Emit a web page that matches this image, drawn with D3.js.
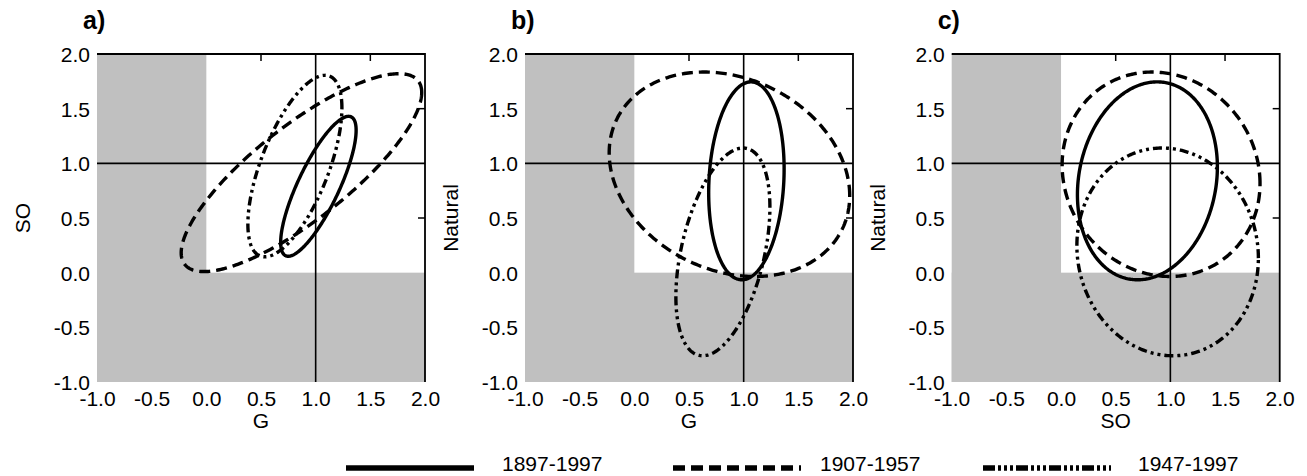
<!DOCTYPE html>
<html><head><meta charset="utf-8">
<script src="https://cdn.jsdelivr.net/npm/d3@7"></script>
<style>
body{margin:0;background:#fff;}
svg text{font-family:"Liberation Sans",Arial,sans-serif;fill:#000;}
</style>
</head><body>
<svg id="chart" width="1307" height="476"></svg>
<script>
// ---- data ----
const periods = ["1897-1997", "1907-1957", "1947-1997"];
// per-period means of each quantity
const meanG   = [1.025, 0.87, 0.81];
const meanSO  = [0.79, 0.915, 0.975];
const meanNat = [0.84, 0.90, 0.19];
// per-period half-extents (spread) of each quantity
const spreadG   = [0.345, 1.10, 0.43];
const spreadSO  = [0.64, 0.905, 0.83];
const spreadNat = [0.905, 0.935, 0.95];
// correlations between quantities
const corrG_SO   = [0.80, 0.81, 0.64];
const corrG_Nat  = [0.12, -0.21, 0.43];
const corrSO_Nat = [0.14, -0.09, -0.06];
// panels
const panelLabels = ["a)", "b)", "c)"];
const panelX = ["G", "G", "SO"];
const panelY = ["SO", "Natural", "Natural"];
const ticks = [-1.0, -0.5, 0.0, 0.5, 1.0, 1.5, 2.0];
const tickLabels = ["-1.0", "-0.5", "0.0", "0.5", "1.0", "1.5", "2.0"];
const dashStyles = [null, "11,6", "9,4,3,4,3,4"];
const legendDash = [null, "12,6", "12,3,3,3,3,3,3,3"];

const stats = {
  G: {mean: meanG, spread: spreadG},
  SO: {mean: meanSO, spread: spreadSO},
  Natural: {mean: meanNat, spread: spreadNat}
};
function corr(a, b, i) {
  const key = [a, b].sort().join("|");
  if (key === "G|SO") return corrG_SO[i];
  if (key === "G|Natural") return corrG_Nat[i];
  return corrSO_Nat[i];
}

// ---- layout ----
const svg = d3.select("#chart");
const plotLefts = [97, 525, 951.7];
const plotTop = 54, plotSize = 328;
const gray = "#c0c0c0";
const FS = 21;
const fmt = v => tickLabels[ticks.indexOf(v)];

panelLabels.forEach((lab, p) => {
  const x0 = plotLefts[p];
  const x = d3.scaleLinear().domain([-1, 2]).range([x0, x0 + plotSize]);
  const y = d3.scaleLinear().domain([-1, 2]).range([plotTop + plotSize, plotTop]);
  const g = svg.append("g");
  const clipId = "clip" + p;
  svg.append("clipPath").attr("id", clipId).append("rect")
    .attr("x", x(-1)).attr("y", y(2)).attr("width", plotSize).attr("height", plotSize);

  // gray regions: x<0 and y<0
  g.append("rect").attr("x", x(-1)).attr("y", y(2))
    .attr("width", x(0) - x(-1)).attr("height", y(-1) - y(2)).attr("fill", gray);
  g.append("rect").attr("x", x(-1)).attr("y", y(0))
    .attr("width", x(2) - x(-1)).attr("height", y(-1) - y(0)).attr("fill", gray);

  // reference lines at 1
  g.append("line").attr("x1", x(1)).attr("x2", x(1)).attr("y1", y(2)).attr("y2", y(-1))
    .attr("stroke", "#000").attr("stroke-width", 1.6);
  g.append("line").attr("x1", x(-1)).attr("x2", x(2)).attr("y1", y(1)).attr("y2", y(1))
    .attr("stroke", "#000").attr("stroke-width", 1.6);

  // frame: top and right
  g.append("path")
    .attr("d", `M${x(-1)},${y(2)}H${x(2)}V${y(-1)}`)
    .attr("fill", "none").attr("stroke", "#000").attr("stroke-width", 1.8);
  // inward ticks on top and right
  [0.5, 1.5].forEach(v => {
    g.append("line").attr("x1", x(v)).attr("x2", x(v)).attr("y1", y(2)).attr("y2", y(2) + 7)
      .attr("stroke", "#000").attr("stroke-width", 1.5);
    g.append("line").attr("x1", x(2)).attr("x2", x(2) - 7).attr("y1", y(v)).attr("y2", y(v))
      .attr("stroke", "#000").attr("stroke-width", 1.5);
  });

  // axes labels (bottom & left), no domain lines
  const xAxis = d3.axisBottom(x).tickValues(ticks).tickFormat(fmt).tickSize(0).tickPadding(9);
  const yAxis = d3.axisLeft(y).tickValues(ticks).tickFormat(fmt).tickSize(0).tickPadding(7);
  const gx = g.append("g").attr("transform", `translate(0,${y(-1)})`).call(xAxis);
  const gy = g.append("g").attr("transform", `translate(${x(-1)},0)`).call(yAxis);
  [gx, gy].forEach(a => {
    a.attr("font-size", FS).attr("font-family", "Liberation Sans, Arial, sans-serif");
    a.select(".domain").remove();
    a.selectAll("text").attr("font-size", FS).attr("fill", "#000");
  });
  gx.selectAll("text").attr("dy", "0.71em");
  gy.selectAll("text").attr("dy", "0.36em");

  // axis titles
  g.append("text").attr("x", x(0.5)).attr("y", 428).attr("text-anchor", "middle")
    .attr("font-size", FS).text(panelX[p]);
  g.append("text").attr("transform", `translate(${x0 - 67},${y(0.5)}) rotate(-90)`)
    .attr("text-anchor", "middle").attr("font-size", FS).text(panelY[p]);

  // panel label
  g.append("text").attr("x", x0 - 14).attr("y", 29).attr("font-size", 25)
    .attr("font-weight", "bold").attr("font-family", "Liberation Sans Narrow, Liberation Sans, Arial")
    .text(lab);

  // ellipses
  const ell = g.append("g").attr("clip-path", `url(#${clipId})`);
  const line = d3.line().x(d => x(d[0])).y(d => y(d[1])).curve(d3.curveLinearClosed);
  periods.forEach((per, i) => {
    const sx = stats[panelX[p]], sy = stats[panelY[p]];
    const theta = Math.acos(corr(panelX[p], panelY[p], i));
    const pts = d3.range(0, 360, 1).map(deg => {
      const t = deg * Math.PI / 180;
      return [sx.mean[i] + sx.spread[i] * Math.cos(t),
              sy.mean[i] + sy.spread[i] * Math.cos(t - theta)];
    });
    ell.append("path").attr("d", line(pts)).attr("fill", "none")
      .attr("stroke", "#000").attr("stroke-width", 3.4)
      .attr("stroke-dasharray", dashStyles[i]);
  });
});

// legend
const legX = [346, 673, 983];
const legTextX = [502, 820, 1138];
periods.forEach((per, i) => {
  svg.append("line").attr("x1", legX[i]).attr("x2", legX[i] + 128)
    .attr("y1", 468).attr("y2", 468).attr("stroke", "#000").attr("stroke-width", 5.5)
    .attr("stroke-dasharray", legendDash[i]);
  svg.append("text").attr("x", legTextX[i]).attr("y", 471).attr("font-size", FS)
    .text(per);
});
</script>
</body></html>
